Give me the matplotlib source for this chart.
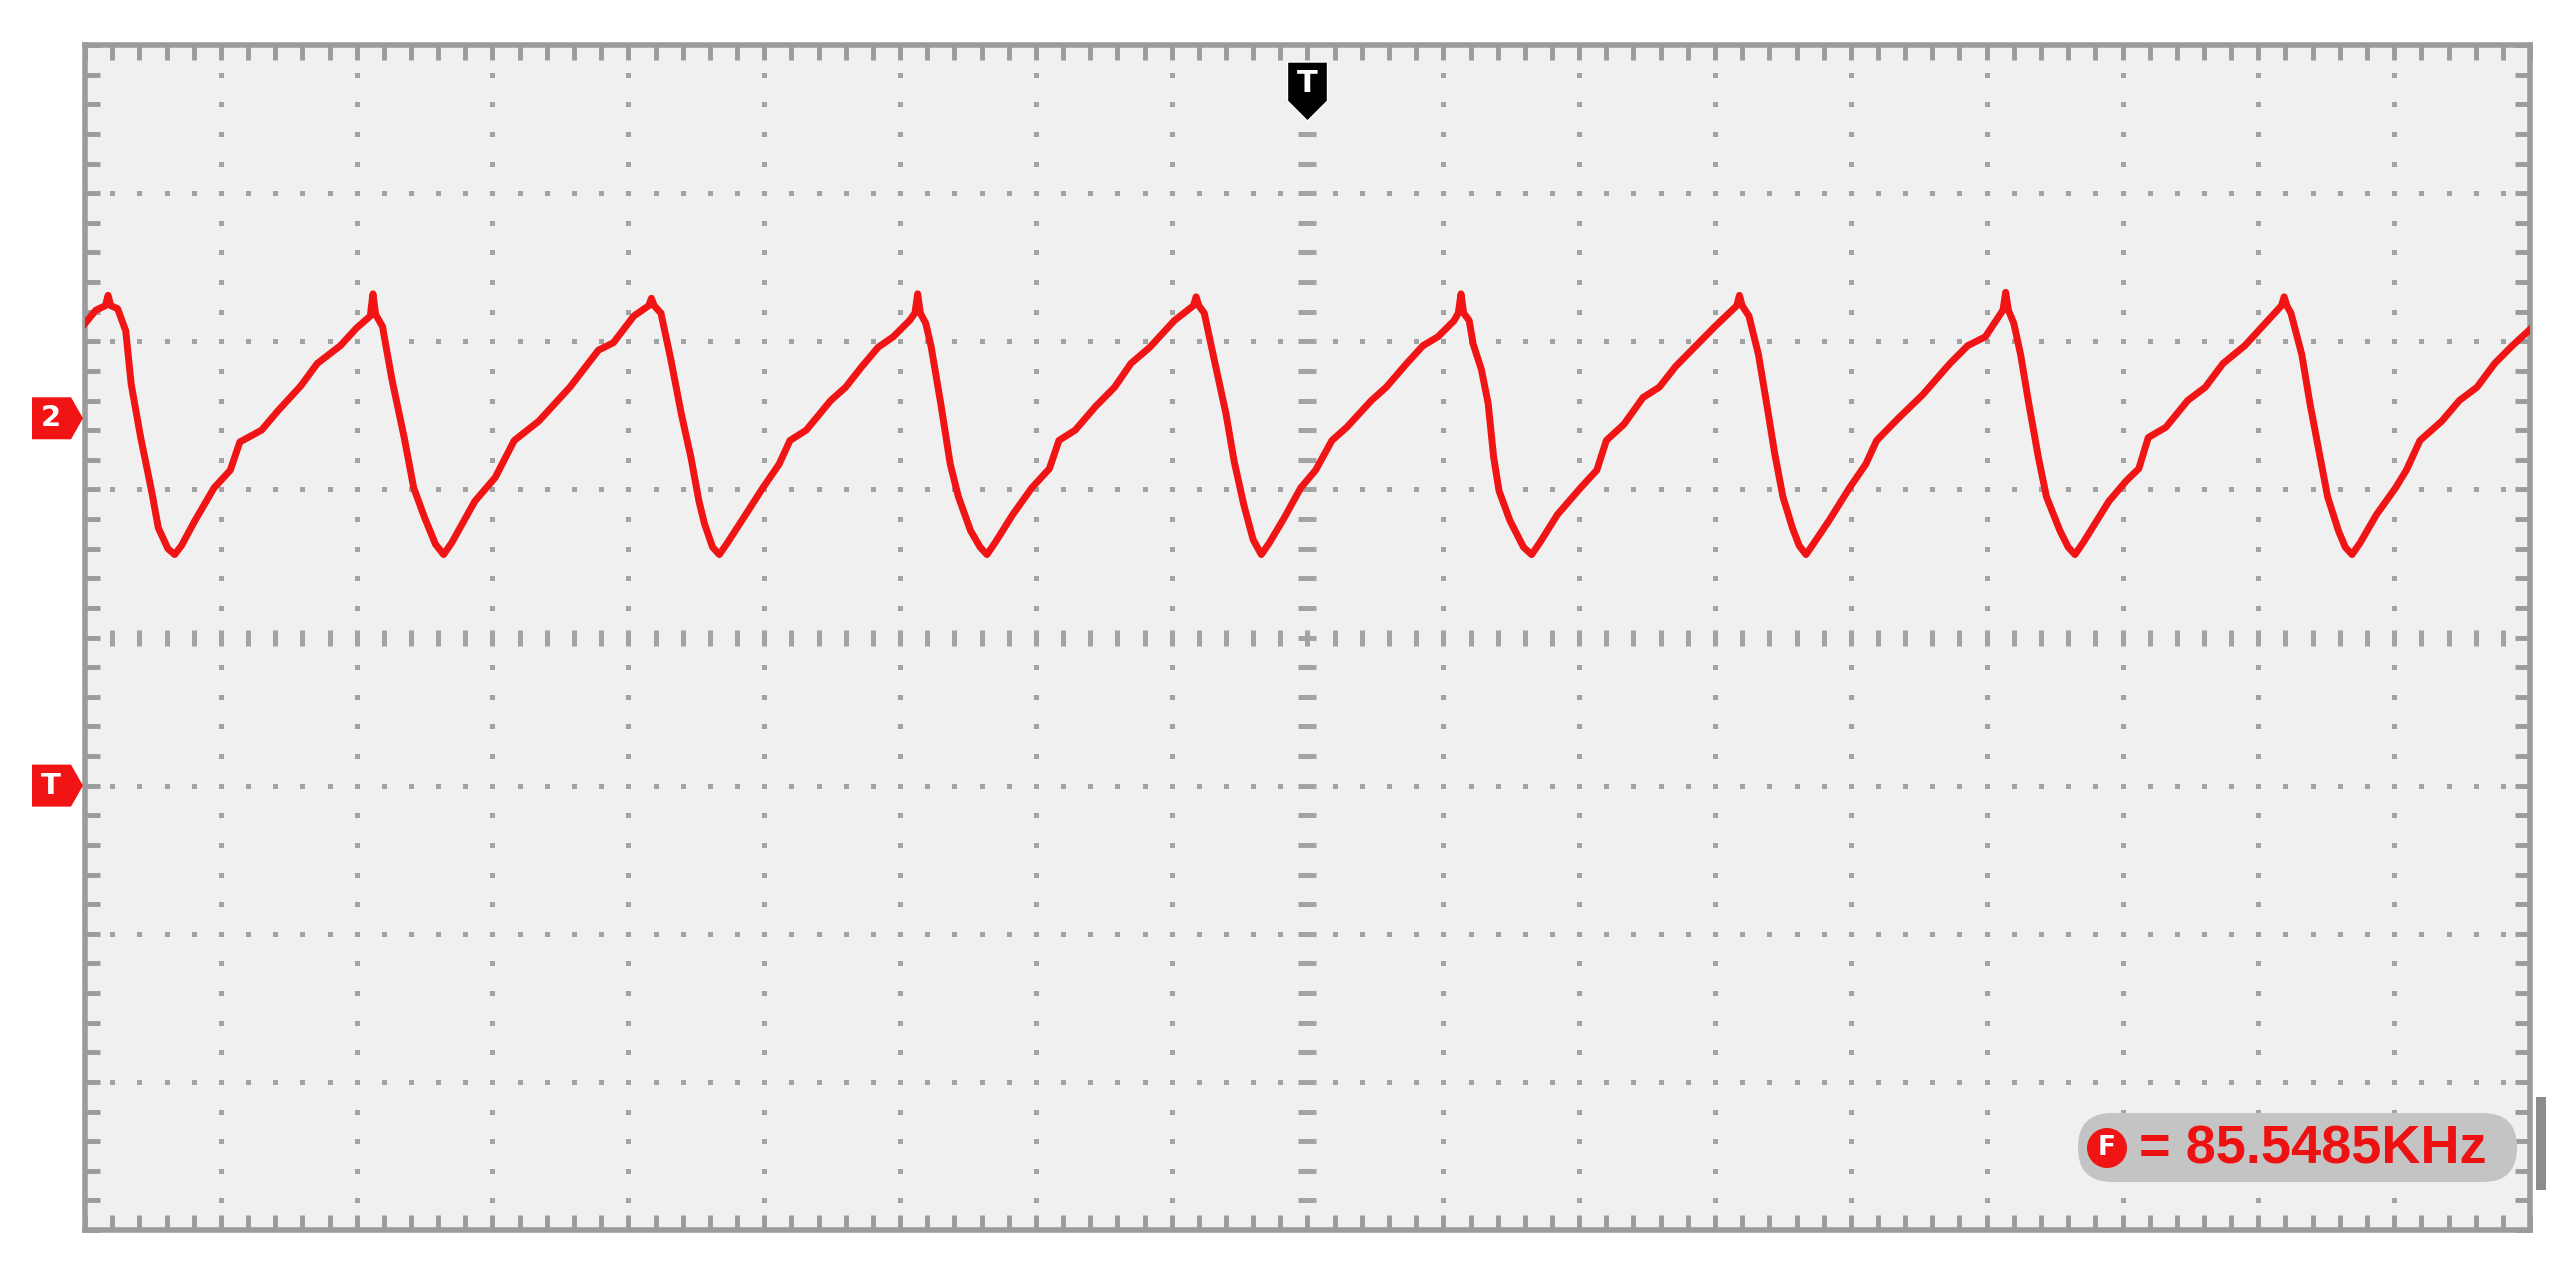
import numpy as np
import matplotlib
matplotlib.use('Agg')
import matplotlib.pyplot as plt
from matplotlib.patches import Polygon, FancyBboxPatch, Circle, Rectangle
from matplotlib.transforms import IdentityTransform

# trace, in divisions (x: 0..18 from left edge, y: -4..4 from centre)
t_div = [0.00, 0.08, 0.15, 0.17, 0.19, 0.24, 0.30, 0.34, 0.41, 0.49, 0.54, 0.61, 0.66,
         0.71, 0.81, 0.95, 1.07, 1.14, 1.30, 1.42, 1.59, 1.71, 1.88, 2.00, 2.10, 2.12, 2.14,
         2.19, 2.26, 2.35, 2.42, 2.50, 2.58, 2.64,
         2.70, 2.87, 3.02, 3.16, 3.34, 3.57, 3.78, 3.89, 4.04, 4.15, 4.17, 4.19,
         4.24, 4.31, 4.39, 4.46, 4.52, 4.56, 4.62, 4.67,
         4.73, 4.85, 4.99, 5.11, 5.19, 5.31, 5.49, 5.60, 5.72, 5.84, 5.95, 6.07, 6.11, 6.13, 6.15,
         6.19, 6.23, 6.30, 6.37, 6.43, 6.52, 6.59, 6.64,
         6.70, 6.83, 6.97, 7.10, 7.17, 7.29, 7.44, 7.58, 7.70, 7.84, 8.02, 8.16, 8.18, 8.20,
         8.24, 8.31, 8.40, 8.46, 8.53, 8.60, 8.66,
         8.72, 8.83, 8.95, 9.06, 9.18, 9.29, 9.47, 9.58, 9.73, 9.85, 9.96, 10.08, 10.11, 10.13, 10.15,
         10.19, 10.22, 10.28, 10.33, 10.37, 10.41, 10.49, 10.59, 10.65,
         10.71, 10.84, 11.01, 11.13, 11.20, 11.33, 11.47, 11.59, 11.71, 11.85, 12.00, 12.16, 12.18, 12.20,
         12.25, 12.32, 12.38, 12.44, 12.50, 12.57, 12.62, 12.67,
         12.73, 12.84, 12.99, 13.11, 13.19, 13.35, 13.53, 13.73, 13.86, 13.99, 14.07, 14.12, 14.14, 14.16,
         14.20, 14.25, 14.31, 14.38, 14.44, 14.54, 14.60, 14.65,
         14.71, 14.90, 15.03, 15.12, 15.19, 15.32, 15.48, 15.61, 15.74, 15.90, 16.03, 16.17, 16.19, 16.21,
         16.24, 16.32, 16.38, 16.45, 16.51, 16.59, 16.64, 16.69,
         16.75, 16.87, 17.01, 17.09, 17.19, 17.35, 17.48, 17.61, 17.74, 17.87, 18.00]
v_div = [2.12, 2.21, 2.24, 2.31, 2.24, 2.22, 2.07, 1.71, 1.35, 0.99, 0.74, 0.60, 0.56,
         0.62, 0.79, 1.01, 1.13, 1.32, 1.40, 1.53, 1.70, 1.85, 1.97, 2.09, 2.17, 2.32, 2.18,
         2.10, 1.74, 1.35, 1.01, 0.81, 0.63, 0.56,
         0.64, 0.92, 1.08, 1.33, 1.46, 1.69, 1.94, 1.99, 2.17, 2.24, 2.29, 2.24,
         2.19, 1.89, 1.51, 1.22, 0.92, 0.77, 0.61, 0.56,
         0.64, 0.81, 1.01, 1.17, 1.33, 1.40, 1.60, 1.69, 1.83, 1.96, 2.03, 2.14, 2.19, 2.32, 2.19,
         2.12, 1.96, 1.58, 1.17, 0.95, 0.72, 0.61, 0.56,
         0.64, 0.83, 1.01, 1.14, 1.33, 1.40, 1.56, 1.69, 1.85, 1.96, 2.14, 2.24, 2.30, 2.24,
         2.19, 1.89, 1.51, 1.19, 0.90, 0.66, 0.56,
         0.64, 0.81, 1.01, 1.13, 1.33, 1.42, 1.60, 1.69, 1.85, 1.97, 2.03, 2.14, 2.19, 2.32, 2.19,
         2.14, 1.98, 1.81, 1.58, 1.22, 0.99, 0.79, 0.61, 0.56,
         0.64, 0.83, 1.01, 1.13, 1.33, 1.44, 1.62, 1.69, 1.83, 1.96, 2.10, 2.24, 2.31, 2.24,
         2.17, 1.91, 1.58, 1.24, 0.95, 0.74, 0.62, 0.56,
         0.64, 0.79, 1.01, 1.17, 1.33, 1.48, 1.64, 1.85, 1.97, 2.03, 2.14, 2.21, 2.33, 2.21,
         2.12, 1.91, 1.58, 1.22, 0.95, 0.72, 0.61, 0.56,
         0.64, 0.92, 1.06, 1.14, 1.35, 1.42, 1.60, 1.69, 1.85, 1.97, 2.10, 2.24, 2.30, 2.24,
         2.19, 1.91, 1.58, 1.24, 0.95, 0.72, 0.61, 0.56,
         0.64, 0.83, 1.01, 1.13, 1.33, 1.46, 1.60, 1.69, 1.85, 1.97, 2.08]

ch2_offset = 1.48        # channel 2 ground marker
trig_level = -1.0        # trigger level marker
trig_pos = 9             # trigger position (centre)
freq_text = '= 85.5485KHz'

n_xdiv, n_ydiv = 18, 8
W, H = 2567, 1279
red = '#f01414'
frame_col = '#9b9b9b'
dot_col = '#a3a3a3'

fig = plt.figure(figsize=(W / 100, H / 100), dpi=100)
ax = fig.add_axes([85 / W, 1 - 1230 / H, (2530 - 85) / W, (1230 - 45) / H])
ax.set_facecolor('#f0f0f0')
ax.set_xlim(0, n_xdiv)
ax.set_ylim(-n_ydiv / 2, n_ydiv / 2)

minor_x = np.linspace(0, n_xdiv, n_xdiv * 5 + 1)
minor_y = np.linspace(-n_ydiv / 2, n_ydiv / 2, n_ydiv * 5 + 1)

# dotted graticule
for gx in range(1, n_xdiv):
    if gx == trig_pos:
        continue
    ax.plot(np.full(len(minor_y) - 2, gx), minor_y[1:-1], ls='none', marker='s',
            ms=3.6, mew=0, color=dot_col, zorder=1)
for gy in range(-n_ydiv // 2 + 1, n_ydiv // 2):
    if gy == 0:
        continue
    ax.plot(minor_x[1:-1], np.full(len(minor_x) - 2, gy), ls='none', marker='s',
            ms=3.6, mew=0, color=dot_col, zorder=1)
# centre axes with small dashes
ax.plot(minor_x[1:-1], np.zeros(len(minor_x) - 2), ls='none', marker='|',
        ms=12, mew=3.6, color=dot_col, zorder=1)
ax.plot(np.full(len(minor_y) - 2, trig_pos), minor_y[1:-1], ls='none', marker='_',
        ms=13, mew=3.6, color=dot_col, zorder=1)

ax.set_xticks(minor_x)
ax.set_yticks(minor_y)
ax.tick_params(direction='in', length=11, width=3.5, color=frame_col,
               top=True, right=True, labelbottom=False, labelleft=False)
for s in ax.spines.values():
    s.set_linewidth(4)
    s.set_color(frame_col)

ax.plot(t_div, v_div, color=red, lw=5, zorder=5)

pix = IdentityTransform()

# trigger position marker on top
xc = ax.transData.transform((trig_pos, 0))[0]
top, shoulder, tip, half = H - 62, H - 101, H - 121, 20
fig.add_artist(Polygon([(xc - half, top), (xc + half, top), (xc + half, shoulder),
                        (xc, tip), (xc - half, shoulder)], closed=True,
                       fc='black', ec='white', lw=1, transform=pix))
fig.text(xc, H - 83, 'T', transform=pix, color='white', ha='center', va='center',
         fontsize=22, fontweight='bold')

# channel / trigger level flags on the left
for yv, lab in [(ch2_offset, '2'), (trig_level, 'T')]:
    yp = ax.transData.transform((0, yv))[1]
    fig.add_artist(Polygon([(32, yp - 21), (71, yp - 21), (83, yp), (71, yp + 21),
                            (32, yp + 21)], closed=True, fc=red, ec='none', transform=pix))
    fig.text(51, yp, lab, transform=pix, color='white', ha='center', va='center',
             fontsize=21, fontweight='bold')

# frequency readout
fig.add_artist(FancyBboxPatch((2078, H - 1182), 439, 69,
                              boxstyle='round,pad=0,rounding_size=34',
                              fc='#c4c4c4', ec='none', transform=pix))
fig.add_artist(Circle((2107, H - 1148), 20, fc=red, ec='none', transform=pix))
fig.text(2107, H - 1148, 'F', transform=pix, color='white', ha='center', va='center',
         fontsize=19, fontweight='bold')
fig.text(2139, H - 1149, freq_text, transform=pix, color='#ee1111', ha='left',
         va='center', fontsize=39, fontweight='bold', family='Liberation Sans')

fig.add_artist(Rectangle((2536, H - 1190), 10, 93, fc='#8c8c8c', ec='none', transform=pix))

fig.savefig('out.png', dpi=100)
